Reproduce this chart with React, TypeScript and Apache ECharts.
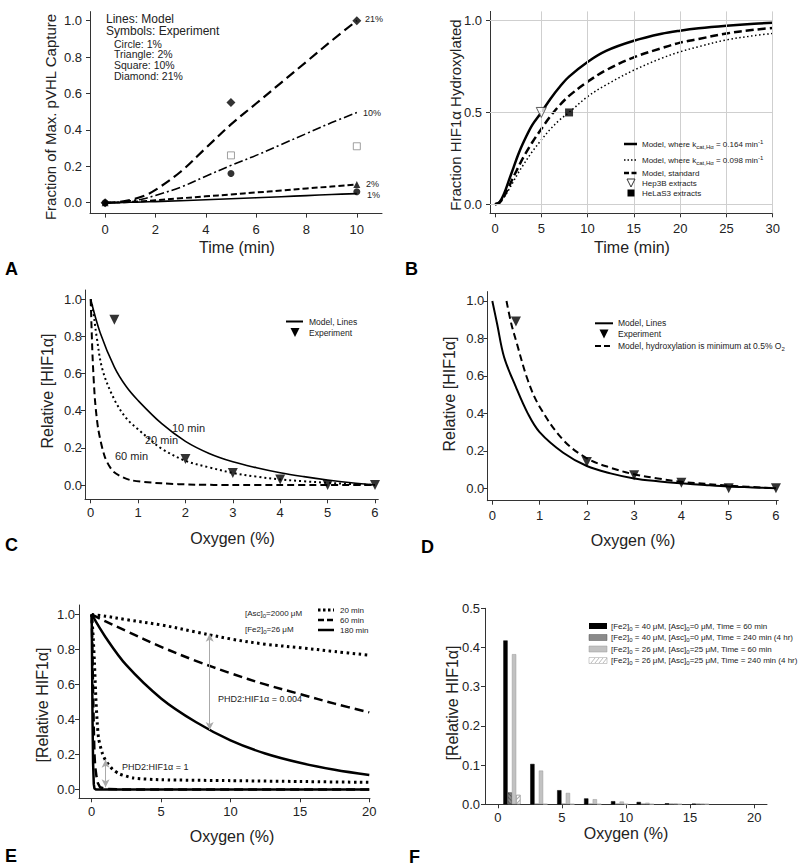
import React, { useEffect, useRef } from 'react';
import * as echarts from 'echarts';

const FONT = '"Liberation Sans", Arial, Helvetica, sans-serif';

// ---------- Panel A : pVHL capture ----------
const aTime = [0, 0.5, 1, 1.5, 2, 3, 4, 5, 6, 7, 8, 9, 10];
const aModel21 = [0, 0.003, 0.015, 0.035, 0.07, 0.17, 0.3, 0.43, 0.545, 0.66, 0.775, 0.89, 1.0];
const aModel10 = [0, 0.002, 0.01, 0.02, 0.04, 0.085, 0.145, 0.205, 0.26, 0.32, 0.38, 0.44, 0.495];
const aModel2 = [0, 0.001, 0.004, 0.008, 0.013, 0.024, 0.035, 0.045, 0.056, 0.067, 0.078, 0.089, 0.1];
const aModel1 = [0, 0.0005, 0.002, 0.004, 0.006, 0.011, 0.016, 0.022, 0.027, 0.033, 0.039, 0.045, 0.05];
const aCircleTime = [0, 5, 10];
const aCircle = [0, 0.16, 0.06];
const aTriangleTime = [0, 10];
const aTriangle = [0, 0.1];
const aSquareTime = [5, 10];
const aSquare = [0.26, 0.31];
const aDiamondTime = [0, 5, 10];
const aDiamond = [0, 0.55, 1.0];
const aXTicks = [0, 2, 4, 6, 8, 10];
const aYTicks = [0, 0.2, 0.4, 0.6, 0.8, 1.0];

// ---------- Panel B : fraction hydroxylated ----------
const bTime = [0, 0.5, 1, 1.5, 2, 2.5, 3, 4, 5, 6, 7, 8, 10, 12, 15, 18, 20, 22, 25, 28, 30];
const bFast = [0, 0.012, 0.06, 0.13, 0.2, 0.27, 0.33, 0.43, 0.5, 0.575, 0.64, 0.695, 0.775, 0.835, 0.89, 0.928, 0.945, 0.958, 0.972, 0.983, 0.988];
const bSlow = [0, 0.008, 0.04, 0.08, 0.125, 0.17, 0.21, 0.285, 0.35, 0.41, 0.46, 0.5, 0.586, 0.65, 0.73, 0.795, 0.83, 0.858, 0.895, 0.918, 0.93];
const bStandard = [0, 0.01, 0.045, 0.095, 0.15, 0.2, 0.25, 0.335, 0.41, 0.48, 0.54, 0.59, 0.667, 0.73, 0.8, 0.85, 0.88, 0.9, 0.93, 0.95, 0.96];
const bHep3BTime = [5];
const bHep3B = [0.5];
const bHeLaTime = [8];
const bHeLa = [0.5];
const bXTicks = [0, 5, 10, 15, 20, 25, 30];
const bYTicks = [0, 0.5, 1.0];

// ---------- Panel C : relative HIF1a vs O2 ----------
const cO2_10 = [0, 0.2, 0.5, 0.75, 1, 1.5, 2, 2.5, 3, 3.5, 4, 4.5, 5, 5.5, 6];
const c10min = [1, 0.82, 0.635, 0.53, 0.455, 0.33, 0.235, 0.17, 0.125, 0.093, 0.066, 0.045, 0.027, 0.012, 0];
const cO2_20 = [0, 0.05, 0.125, 0.25, 0.5, 0.75, 1, 1.25, 1.5, 2, 2.5, 3, 3.5, 4, 4.5, 5, 5.5, 6];
const c20min = [1, 0.94, 0.8, 0.62, 0.46, 0.36, 0.3, 0.245, 0.195, 0.13, 0.095, 0.065, 0.045, 0.03, 0.02, 0.012, 0.005, 0];
const cO2_60 = [0, 0.04, 0.09, 0.16, 0.3, 0.48, 0.83, 1.5, 2.2, 3, 4, 5, 6];
const c60min = [1, 0.69, 0.46, 0.3, 0.15, 0.072, 0.027, 0.009, 0.002, 0, 0, 0, 0];
const cExpO2 = [0.5, 2, 3, 4, 5, 6];
const cExp = [0.89, 0.14, 0.065, 0.03, 0.0, 0.0];
const cdXTicks = [0, 1, 2, 3, 4, 5, 6];
const cdYTicks = [0, 0.2, 0.4, 0.6, 0.8, 1.0];

// ---------- Panel D ----------
const dO2 = [0, 0.1, 0.25, 0.5, 0.75, 1, 1.5, 2, 2.5, 3, 3.5, 4, 4.5, 5, 5.5, 6];
const dModel = [1, 0.88, 0.7, 0.54, 0.4, 0.3, 0.19, 0.119, 0.08, 0.053, 0.038, 0.027, 0.018, 0.01, 0.005, 0];
const dMinO2 = [0.3, 0.4, 0.5, 0.75, 1, 1.5, 2, 2.5, 3, 3.5, 4, 5, 6];
const dMinModel = [1.0, 0.88, 0.79, 0.578, 0.436, 0.258, 0.16, 0.11, 0.075, 0.053, 0.035, 0.015, 0];
const dExpO2 = [0.5, 2, 3, 4, 5, 6];
const dExp = [0.89, 0.14, 0.07, 0.03, 0.0, 0.0];

// ---------- Panel E ----------
const eO2High = [0, 1, 2.5, 5, 7.5, 10, 12.5, 15, 17.5, 20];
const eHigh20 = [1, 0.99, 0.97, 0.94, 0.9, 0.86, 0.83, 0.81, 0.788, 0.767];
const eHigh60 = [1, 0.96, 0.905, 0.815, 0.735, 0.664, 0.6, 0.545, 0.49, 0.44];
const eHigh180 = [1, 0.87, 0.71, 0.52, 0.385, 0.28, 0.205, 0.152, 0.112, 0.082];
const eLowO2_20 = [0, 0.1, 0.2, 0.3, 0.4, 0.5, 0.75, 1, 1.5, 2, 3, 5, 10, 15, 20];
const eLow20 = [1, 0.88, 0.72, 0.52, 0.38, 0.29, 0.21, 0.165, 0.115, 0.088, 0.065, 0.055, 0.05, 0.045, 0.04];
const eLowO2_60 = [0, 0.05, 0.1, 0.15, 0.2, 0.25, 0.35, 0.45, 0.6, 1, 2, 20];
const eLow60 = [1, 0.8, 0.55, 0.35, 0.2, 0.13, 0.07, 0.035, 0.012, 0.002, 0, 0];
const eLowO2_180 = [0, 0.03, 0.06, 0.1, 0.15, 0.2, 0.3, 20];
const eLow180 = [1, 0.7, 0.4, 0.15, 0.03, 0.005, 0, 0];
const eArrowHigh = [[8.5, 0.89], [8.5, 0.34]];
const eArrowLow = [[1.0, 0.17], [1.0, 0.012]];
const eXTicks = [0, 5, 10, 15, 20];
const eYTicks = [0, 0.2, 0.4, 0.6, 0.8, 1.0];

// ---------- Panel F ----------
const fO2 = [1.1, 3.2, 5.3, 7.4, 9.5, 11.5, 13.7, 15.8];
const fFe40Asc0_60 = [0.418, 0.103, 0.036, 0.015, 0.008, 0.006, 0.0025, 0.0015];
const fFe40Asc0_240 = [0.03, 0, 0, 0, 0, 0, 0, 0];
const fFe26Asc25_60 = [0.383, 0.086, 0.029, 0.013, 0.007, 0.004, 0.002, 0.0015];
const fFe26Asc25_240 = [0.024, 0, 0, 0, 0, 0, 0, 0];
const fXTicks = [0, 5, 10, 15, 20];
const fYTicks = [0, 0.1, 0.2, 0.3, 0.4, 0.5];

const pairs = (xs: number[], ys: number[]) => xs.map((x, i) => [x, ys[i]]);

function makeAxis(ticks: number[], fmt: (v: number) => string, min: number, max: number, margin: number) {
  return {
    type: 'value',
    min,
    max,
    axisLine: { show: true, onZero: false, lineStyle: { color: '#333', width: 1 } },
    axisTick: { show: true, inside: false, length: 4, customValues: ticks, lineStyle: { color: '#333', width: 1 } },
    axisLabel: {
      show: true,
      customValues: ticks,
      formatter: (v: number) => fmt(v),
      color: '#222',
      fontSize: 13,
      fontFamily: FONT,
      margin,
    },
    splitLine: { show: false },
    minorTick: { show: false },
  };
}

const f0 = (v: number) => String(Math.round(v));
const f1 = (v: number) => v.toFixed(1);

function line(idx: number, data: number[][], width: number, type: any, smooth: any = 0.35) {
  return {
    type: 'line',
    xAxisIndex: idx,
    yAxisIndex: idx,
    data,
    symbol: 'none',
    showSymbol: false,
    smooth,
    silent: true,
    z: 3,
    lineStyle: { color: '#000', width, type, cap: 'butt', join: 'round' },
  };
}

function scatter(idx: number, data: number[][], symbol: string, size: number, itemStyle: any, rotate = 0) {
  return {
    type: 'scatter',
    xAxisIndex: idx,
    yAxisIndex: idx,
    data,
    symbol,
    symbolSize: size,
    symbolRotate: rotate,
    itemStyle,
    silent: true,
    z: 5,
  };
}

function txt(x: number, y: number, text: string, size: number, opts: any = {}) {
  const align = opts.align || 'left';
  return {
    type: 'text',
    x,
    y,
    rotation: opts.rotation || 0,
    z: 10,
    style: {
      text,
      fontSize: size,
      fontFamily: FONT,
      fontWeight: opts.bold ? 'bold' : 'normal',
      fill: opts.fill || '#222',
      align,
      verticalAlign: 'middle',
      textAlign: align,
      textVerticalAlign: 'middle',
      rich: opts.rich,
    },
  };
}

function seg(x1: number, y1: number, x2: number, y2: number, width: number, dash: number[] | null, color = '#000') {
  return {
    type: 'line',
    z: 10,
    shape: { x1, y1, x2, y2 },
    style: { stroke: color, lineWidth: width, lineDash: dash || undefined },
  };
}

const subRich = {
  b: { fontSize: 8, fontFamily: FONT, color: '#222', lineHeight: 11 },
  s: { fontSize: 6, fontFamily: FONT, color: '#222', verticalAlign: 'bottom', lineHeight: 11 },
  p: { fontSize: 6, fontFamily: FONT, color: '#222', verticalAlign: 'top', lineHeight: 11 },
};

export default function App() {
  const ref = useRef<HTMLDivElement>(null);

  useEffect(() => {
    if (!ref.current) return;
    const chart = echarts.init(ref.current, null, { renderer: 'svg' });

    const grids = [
      { left: 90, top: 11.6, width: 292, height: 202 }, // A
      { left: 490, top: 11.4, width: 282.7, height: 201.9 }, // B
      { left: 85, top: 290, width: 293.3, height: 209.3 }, // C
      { left: 487.3, top: 291.6, width: 291, height: 209.1 }, // D
      { left: 79, top: 605, width: 291, height: 193.3 }, // E
      { left: 485, top: 608.3, width: 282, height: 196 }, // F
    ].map((g) => ({ ...g, containLabel: false, outerBoundsMode: 'none', show: false }));

    const xAxes = [
      makeAxis(aXTicks, f0, -0.6, 11, 9),
      makeAxis(bXTicks, f0, -0.54, 30, 9),
      makeAxis(cdXTicks, f0, -0.12, 6.07, 7),
      makeAxis(cdXTicks, f0, -0.106, 6.05, 8.5),
      makeAxis(eXTicks, f0, -0.915, 20.05, 7),
      makeAxis(fXTicks, f0, -1, 21, 6.5),
    ].map((a, i) => ({ ...a, gridIndex: i, position: 'bottom' }));

    const yAxes = [
      makeAxis(aYTicks, f1, -0.06, 1.05, 8),
      makeAxis(bYTicks, f1, -0.049, 1.05, 8),
      makeAxis(cdYTicks, f1, -0.077, 1.05, 3),
      makeAxis(cdYTicks, f1, -0.066, 1.05, 3),
      makeAxis(eYTicks, f1, -0.051, 1.054, 4),
      makeAxis(fYTicks, f1, 0, 0.5, 5),
    ].map((a, i) => ({ ...a, gridIndex: i, position: 'left' }));

    const hollowSquare = { color: '#fff', borderColor: '#888', borderWidth: 1 };
    const black = { color: '#000' };

    const series: any[] = [
      // A
      line(0, pairs(aTime, aModel1), 1.6, 'solid'),
      line(0, pairs(aTime, aModel2), 2, [6, 3]),
      line(0, pairs(aTime, aModel10), 1.6, [9, 3, 2, 3]),
      line(0, pairs(aTime, aModel21), 2.2, [10, 5]),
      scatter(0, pairs(aCircleTime, aCircle), 'circle', 7, black),
      scatter(0, pairs(aTriangleTime, aTriangle), 'triangle', 7, black),
      scatter(0, pairs(aSquareTime, aSquare), 'rect', 7, hollowSquare),
      scatter(0, pairs(aDiamondTime, aDiamond), 'diamond', 9, black),
      // B gridlines
      {
        type: 'line',
        xAxisIndex: 1,
        yAxisIndex: 1,
        data: [[0, 0]],
        symbol: 'none',
        lineStyle: { width: 0, opacity: 0 },
        silent: true,
        z: 1,
        markLine: {
          silent: true,
          symbol: ['none', 'none'],
          label: { show: false },
          animation: false,
          lineStyle: { color: '#cfcfcf', type: 'solid', width: 1 },
          data: [
            ...bXTicks.filter((v) => v > 0).map((v) => ({ xAxis: v })),
            ...bYTicks.map((v) => ({ yAxis: v })),
          ],
        },
      },
      line(1, pairs(bTime, bSlow), 1.5, [1.5, 2.5]),
      line(1, pairs(bTime, bStandard), 2.5, [8, 4]),
      line(1, pairs(bTime, bFast), 2.5, 'solid'),
      scatter(1, pairs(bHep3BTime, bHep3B), 'triangle', 10, { color: '#fff', borderColor: '#333', borderWidth: 1 }, 180),
      scatter(1, pairs(bHeLaTime, bHeLa), 'rect', 8, black),
      // C
      line(2, pairs(cO2_10, c10min), 1.6, 'solid'),
      line(2, pairs(cO2_20, c20min), 2, [2, 3]),
      line(2, pairs(cO2_60, c60min), 2, [7, 4], 0.25),
      scatter(2, pairs(cExpO2, cExp), 'triangle', 10, black, 180),
      // D
      line(3, pairs(dO2, dModel), 2, 'solid'),
      line(3, pairs(dMinO2, dMinModel), 2, [7, 4]),
      scatter(3, pairs(dExpO2, dExp), 'triangle', 10, black, 180),
      // E
      line(4, pairs(eO2High, eHigh20), 3, [2.5, 3.5]),
      line(4, pairs(eO2High, eHigh60), 2.5, [9, 5]),
      line(4, pairs(eO2High, eHigh180), 2.5, 'solid'),
      line(4, pairs(eLowO2_20, eLow20), 3, [2.5, 3.5], 0.2),
      line(4, pairs(eLowO2_60, eLow60), 2.5, [9, 5], false),
      line(4, pairs(eLowO2_180, eLow180), 2.5, 'solid', false),
      {
        type: 'line',
        xAxisIndex: 4,
        yAxisIndex: 4,
        data: [[0, 0]],
        symbol: 'none',
        lineStyle: { width: 0, opacity: 0 },
        silent: true,
        z: 6,
        markLine: {
          silent: true,
          symbol: ['arrow', 'arrow'],
          symbolSize: [6, 8],
          label: { show: false },
          animation: false,
          lineStyle: { color: '#aaa', type: 'solid', width: 1 },
          itemStyle: { color: '#aaa' },
          data: [
            [{ coord: eArrowHigh[0] }, { coord: eArrowHigh[1] }],
            [{ coord: eArrowLow[0] }, { coord: eArrowLow[1] }],
          ],
        },
      },
      // F
      {
        type: 'bar',
        xAxisIndex: 5,
        yAxisIndex: 5,
        data: pairs(fO2, fFe40Asc0_60),
        barWidth: 4.3,
        barGap: '0%',
        silent: true,
        itemStyle: { color: '#000', borderColor: '#000', borderWidth: 0.5 },
      },
      {
        type: 'bar',
        xAxisIndex: 5,
        yAxisIndex: 5,
        data: pairs(fO2, fFe40Asc0_240),
        barWidth: 4.3,
        barGap: '0%',
        silent: true,
        itemStyle: {
          color: '#8a8a8a',
          borderColor: '#555',
          borderWidth: 0.5,
          decal: { symbol: 'rect', color: 'rgba(0,0,0,0.35)', dashArrayX: [1, 0], dashArrayY: [1, 2], rotation: Math.PI / 4 },
        },
      },
      {
        type: 'bar',
        xAxisIndex: 5,
        yAxisIndex: 5,
        data: pairs(fO2, fFe26Asc25_60),
        barWidth: 4.3,
        barGap: '0%',
        silent: true,
        itemStyle: { color: '#c2c2c2', borderColor: '#999', borderWidth: 0.5 },
      },
      {
        type: 'bar',
        xAxisIndex: 5,
        yAxisIndex: 5,
        data: pairs(fO2, fFe26Asc25_240),
        barWidth: 4.3,
        barGap: '0%',
        silent: true,
        itemStyle: {
          color: '#fff',
          borderColor: '#999',
          borderWidth: 0.5,
          decal: { symbol: 'rect', color: '#aaa', dashArrayX: [1, 0], dashArrayY: [1, 2], rotation: -Math.PI / 4 },
        },
      },
    ];

    const R = Math.PI / 2;
    const graphic: any[] = [
      // panel letters
      txt(5, 268.5, 'A', 18, { bold: true, fill: '#000' }),
      txt(405, 268.5, 'B', 18, { bold: true, fill: '#000' }),
      txt(5, 545, 'C', 18, { bold: true, fill: '#000' }),
      txt(421, 547, 'D', 18, { bold: true, fill: '#000' }),
      txt(5, 855.5, 'E', 18, { bold: true, fill: '#000' }),
      txt(409, 857, 'F', 18, { bold: true, fill: '#000' }),
      // axis titles
      txt(237, 247, 'Time (min)', 16, { align: 'center' }),
      txt(50, 117, 'Fraction of Max. pVHL Capture', 15, { align: 'center', rotation: R }),
      txt(632, 247, 'Time (min)', 16, { align: 'center' }),
      txt(455, 115, 'Fraction HIF1α Hydroxylated', 15, { align: 'center', rotation: R }),
      txt(232.5, 538, 'Oxygen (%)', 16, { align: 'center' }),
      txt(47.5, 391, 'Relative [HIF1α]', 16, { align: 'center', rotation: R }),
      txt(633, 540, 'Oxygen (%)', 16, { align: 'center' }),
      txt(449, 394, 'Relative [HIF1α]', 16, { align: 'center', rotation: R }),
      txt(232, 836, 'Oxygen (%)', 16, { align: 'center' }),
      txt(42, 705, '[Relative HIF1α]', 16, { align: 'center', rotation: R }),
      txt(626, 833, 'Oxygen (%)', 16, { align: 'center' }),
      txt(452.5, 703, '[Relative HIF1α]', 16, { align: 'center', rotation: R }),
      // A legend and labels
      txt(106, 18.5, 'Lines: Model', 12),
      txt(106, 31, 'Symbols: Experiment', 12),
      txt(114, 43.5, 'Circle: 1%', 10.5),
      txt(114, 54, 'Triangle: 2%', 10.5),
      txt(114, 65, 'Square: 10%', 10.5),
      txt(114, 76, 'Diamond: 21%', 10.5),
      txt(365, 18.5, '21%', 9),
      txt(363, 113, '10%', 9),
      txt(366, 183.5, '2%', 9),
      txt(367, 194.5, '1%', 9),
      // B legend
      seg(624, 144, 637, 144, 2.5, null),
      txt(642, 144, '{b|Model, where k}{s|cat,Hα}{b| = 0.164 min}{p|-1}', 8, { rich: subRich }),
      seg(624, 160, 637, 160, 1.5, [1.5, 2]),
      txt(642, 160, '{b|Model, where k}{s|cat,Hα}{b| = 0.098 min}{p|-1}', 8, { rich: subRich }),
      seg(624, 173, 637, 173, 2.5, [5, 2.5]),
      txt(642, 173, 'Model, standard', 8),
      {
        type: 'polygon',
        z: 10,
        shape: { points: [[627, 179], [635, 179], [631, 187]] },
        style: { fill: '#fff', stroke: '#333', lineWidth: 1 },
      },
      txt(642, 183, 'Hep3B extracts', 8),
      { type: 'rect', z: 10, shape: { x: 627.5, y: 189.5, width: 7, height: 7 }, style: { fill: '#000' } },
      txt(642, 193, 'HeLaS3 extracts', 8),
      // C labels and legend
      txt(172, 428, '10 min', 11),
      txt(145, 440, '20 min', 11),
      txt(115, 456, '60 min', 11),
      seg(286, 321.5, 303, 321.5, 2, null),
      txt(309, 321.5, 'Model, Lines', 8.5),
      {
        type: 'polygon',
        z: 10,
        shape: { points: [[290.5, 328], [299.5, 328], [295, 337]] },
        style: { fill: '#000' },
      },
      txt(309, 332.5, 'Experiment', 8.5),
      // D legend
      seg(595, 323.3, 613, 323.3, 2, null),
      txt(618, 323.3, 'Model, Lines', 8.5),
      {
        type: 'polygon',
        z: 10,
        shape: { points: [[599.5, 329.5], [608.5, 329.5], [604, 338.5]] },
        style: { fill: '#000' },
      },
      txt(618, 333.5, 'Experiment', 8.5),
      seg(595, 346, 613, 346, 2, [6, 3]),
      txt(618, 346, '{b|Model, hydroxylation is minimum at 0.5% O}{s|2}', 8.5, { rich: { ...subRich, b: { ...subRich.b, fontSize: 8.5 } } }),
      // E annotations
      txt(245, 613, '{b|[Asc]}{s|0}{b|=2000 μM}', 8, { rich: subRich }),
      txt(245, 629, '{b|[Fe2]}{s|0}{b|=26 μM}', 8, { rich: subRich }),
      seg(318, 610, 334, 610, 3, [2.5, 2.5]),
      txt(340, 610, '20 min', 8),
      seg(318, 620, 334, 620, 2.5, [6, 3]),
      txt(340, 620, '60 min', 8),
      seg(318, 630, 334, 630, 2.5, null),
      txt(340, 630, '180 min', 8),
      txt(218, 698.5, 'PHD2:HIF1α = 0.004', 9),
      txt(122, 767, 'PHD2:HIF1α = 1', 9),
      // F legend
      { type: 'rect', z: 10, shape: { x: 589, y: 623, width: 18, height: 6 }, style: { fill: '#000' } },
      txt(611, 626, '{b|[Fe2]}{s|0}{b| = 40 μM, [Asc]}{s|0}{b|=0 μM, Time = 60 min}', 8, { rich: subRich }),
      { type: 'rect', z: 10, shape: { x: 589, y: 634.5, width: 18, height: 6 }, style: { fill: '#8a8a8a', stroke: '#555', lineWidth: 0.5 } },
      txt(611, 637.5, '{b|[Fe2]}{s|0}{b| = 40 μM, [Asc]}{s|0}{b|=0 μM, Time = 240 min (4 hr)}', 8, { rich: subRich }),
      { type: 'rect', z: 10, shape: { x: 589, y: 646, width: 18, height: 6 }, style: { fill: '#c2c2c2', stroke: '#999', lineWidth: 0.5 } },
      txt(611, 649, '{b|[Fe2]}{s|0}{b| = 26 μM, [Asc]}{s|0}{b|=25 μM, Time = 60 min}', 8, { rich: subRich }),
      { type: 'rect', z: 10, shape: { x: 589, y: 657.5, width: 18, height: 6 }, style: { fill: '#fff', stroke: '#999', lineWidth: 0.5 } },
      seg(591, 663, 595, 658, 0.8, null, '#aaa'),
      seg(595, 663, 599, 658, 0.8, null, '#aaa'),
      seg(599, 663, 603, 658, 0.8, null, '#aaa'),
      seg(603, 663, 607, 658, 0.8, null, '#aaa'),
      txt(611, 660.5, '{b|[Fe2]}{s|0}{b| = 26 μM, [Asc]}{s|0}{b|=25 μM, Time = 240 min (4 hr)}', 8, { rich: subRich }),
    ];

    chart.setOption({
      animation: false,
      backgroundColor: '#fff',
      textStyle: { fontFamily: FONT },
      grid: grids,
      xAxis: xAxes,
      yAxis: yAxes,
      series,
      graphic,
    });

    return () => {
      chart.dispose();
    };
  }, []);

  return (
    <div
      ref={ref}
      style={{ position: 'fixed', left: 0, top: 0, width: 800, height: 868, background: '#fff' }}
    />
  );
}
